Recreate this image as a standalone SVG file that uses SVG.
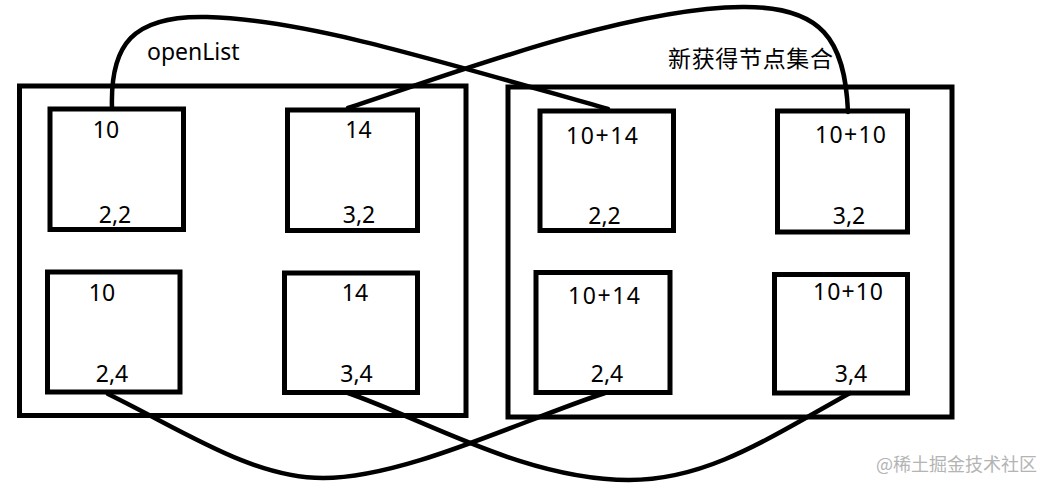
<svg xmlns="http://www.w3.org/2000/svg" width="1056" height="492" viewBox="0 0 1056 492">
<style>
.box{fill:none;stroke:#000;stroke-width:5}
.wire{fill:none;stroke:#000;stroke-width:4.5;stroke-linecap:round}
.t{font-family:"Noto Sans","Noto Sans CJK SC",sans-serif;font-size:23px;fill:#000;text-anchor:middle}
.lbl{font-family:"Noto Sans","Noto Sans CJK SC",sans-serif;font-size:23px;fill:#000}
.wm{font-family:"Noto Sans CJK SC",sans-serif;font-size:18px;fill:#b4b4b4}
</style>
<rect width="1056" height="492" fill="#fff"/>
<g id="openList">
<rect class="box" x="19.5" y="86" width="446.5" height="329.5"/>
<text class="lbl" x="147" y="60">openList</text>
</g>
<g id="newSet">
<rect class="box" x="508" y="87" width="444" height="330"/>
<text class="lbl" x="668" y="67" textLength="165" lengthAdjust="spacing">新获得节点集合</text>
</g>
<g id="n-a">
<rect class="box" x="50" y="109" width="133.5" height="120.5"/>
<text class="t" x="106" y="138">10</text>
<text class="t" x="115" y="223">2,2</text>
</g>
<g id="n-b">
<rect class="box" x="287.5" y="110" width="130" height="120.5"/>
<text class="t" x="358.5" y="138">14</text>
<text class="t" x="359" y="223">3,2</text>
</g>
<g id="n-c">
<rect class="box" x="47.5" y="272" width="132.5" height="120"/>
<text class="t" x="102" y="301">10</text>
<text class="t" x="112" y="382">2,4</text>
</g>
<g id="n-d">
<rect class="box" x="284.5" y="273" width="133" height="119.5"/>
<text class="t" x="355" y="301">14</text>
<text class="t" x="356.5" y="382">3,4</text>
</g>
<g id="n-e">
<rect class="box" x="540" y="111" width="133.5" height="119.5"/>
<text class="t" x="602" y="144" textLength="72" lengthAdjust="spacing">10+14</text>
<text class="t" x="604.5" y="224">2,2</text>
</g>
<g id="n-f">
<rect class="box" x="777.5" y="111" width="130" height="121"/>
<text class="t" x="850.5" y="143" textLength="71" lengthAdjust="spacing">10+10</text>
<text class="t" x="849" y="224">3,2</text>
</g>
<g id="n-g">
<rect class="box" x="536" y="272.5" width="134" height="120"/>
<text class="t" x="604" y="304" textLength="72" lengthAdjust="spacing">10+14</text>
<text class="t" x="607" y="382">2,4</text>
</g>
<g id="n-h">
<rect class="box" x="774.5" y="274.5" width="133" height="118.5"/>
<text class="t" x="848" y="300" textLength="70" lengthAdjust="spacing">10+10</text>
<text class="t" x="851" y="382">3,4</text>
</g>
<g id="connectors">
<path class="wire" d="M112,108 C110,45 132,15 207,17 C305,20 425,57 608,109"/>
<path class="wire" d="M348,108 C435,80 622,8 742,7 C822,6 845,40 848,112"/>
<path class="wire" d="M108,394 C182,430 252,478 323,478 C405,478 522,420 605,393"/>
<path class="wire" d="M348,393 C426,420 526,480 629,480 C706,480 766,440 850,393"/>
</g>
<text class="wm" x="876" y="471">@稀土掘金技术社区</text>
</svg>
